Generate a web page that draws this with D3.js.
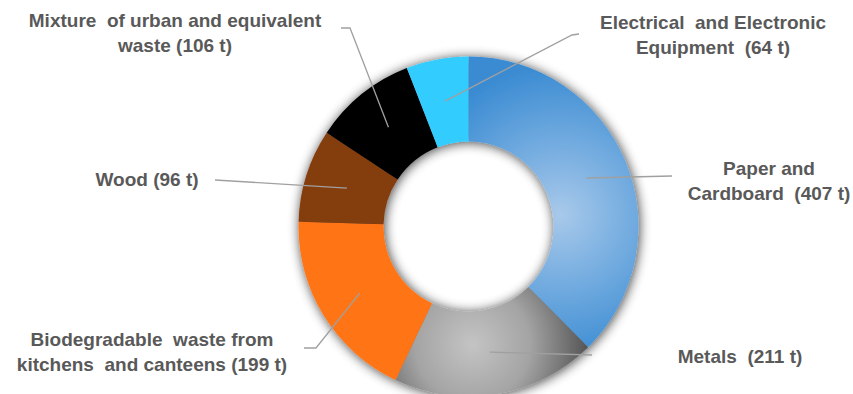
<!DOCTYPE html>
<html>
<head>
<meta charset="utf-8">
<script src="https://cdn.jsdelivr.net/npm/d3@7/dist/d3.min.js"></script>
<style>
  html, body { margin: 0; padding: 0; background: #fff; }
  svg { display: block; }
  text { font-family: "Liberation Sans", Arial, sans-serif; font-weight: bold; fill: #595959; font-size: 19px; white-space: pre; }
</style>
</head>
<body>
<svg id="chart" width="853" height="394"></svg>
<script>
// ---- data ----
const categories = [
  "Paper and Cardboard",
  "Metals",
  "Biodegradable waste from kitchens and canteens",
  "Wood",
  "Mixture of urban and equivalent waste",
  "Electrical and Electronic Equipment"
];
const values = [407, 211, 199, 96, 106, 64];
const labelLines = [
  ["Paper and", "Cardboard  (407 t)"],
  ["Metals  (211 t)"],
  ["Biodegradable  waste from", "kitchens  and canteens (199 t)"],
  ["Wood (96 t)"],
  ["Mixture  of urban and equivalent", "waste (106 t)"],
  ["Electrical  and Electronic", "Equipment  (64 t)"]
];

// ---- layout (positions / styles) ----
const W = 853, H = 394;
const cx = 468.5, cy = 226.5, rOuter = 170, rInner = 85;
const sliceFills = ["url(#gPaper)", "url(#gMetal)", "#ff7518", "#843c0c", "#000000", "#33ccff"];
// label text center x, first baseline y
const labelPos = [
  [769, 175], [740, 363], [152, 346], [147, 186], [175, 27], [713, 29]
];
// leader line path after the slice centroid (elbow points)
const leaderPts = [
  [[672, 176]],
  [[592, 355]],
  [[316, 348], [304, 348]],
  [[215, 180]],
  [[350, 28], [341, 28]],
  [[572, 35], [579, 34]]
];
const lineHeight = 25;

const svg = d3.select("#chart");
const defs = svg.append("defs");

// gradients are in the slice group's coordinate space (origin at donut centre)
const gp = defs.append("radialGradient").attr("id", "gPaper")
  .attr("gradientUnits", "userSpaceOnUse").attr("cx", 92).attr("cy", -12).attr("r", 150);
gp.append("stop").attr("offset", 0).attr("stop-color", "#a8c9ea");
gp.append("stop").attr("offset", 0.5).attr("stop-color", "#70aadf");
gp.append("stop").attr("offset", 1).attr("stop-color", "#3a8bd2");

const gm = defs.append("radialGradient").attr("id", "gMetal")
  .attr("gradientUnits", "userSpaceOnUse").attr("cx", 4).attr("cy", 118).attr("r", 115);
gm.append("stop").attr("offset", 0).attr("stop-color", "#c4c4c4");
gm.append("stop").attr("offset", 0.5).attr("stop-color", "#a4a4a4");
gm.append("stop").attr("offset", 1).attr("stop-color", "#555555");

const f = defs.append("filter").attr("id", "shadow")
  .attr("x", "-20%").attr("y", "-20%").attr("width", "140%").attr("height", "140%");
f.append("feGaussianBlur").attr("in", "SourceAlpha").attr("stdDeviation", 6).attr("result", "b");
f.append("feOffset").attr("in", "b").attr("dx", 1).attr("dy", 1).attr("result", "o");
f.append("feComponentTransfer").attr("in", "o").attr("result", "s")
  .append("feFuncA").attr("type", "linear").attr("slope", 0.75);
const fm = f.append("feMerge");
fm.append("feMergeNode").attr("in", "s");
fm.append("feMergeNode").attr("in", "SourceGraphic");

const pie = d3.pie().sort(null).value(d => d)(values);
const arc = d3.arc().innerRadius(rInner).outerRadius(rOuter);

const g = svg.append("g").attr("transform", `translate(${cx},${cy})`);
g.append("g").attr("filter", "url(#shadow)")
  .selectAll("path").data(pie).join("path")
  .attr("d", arc)
  .attr("fill", (d, i) => sliceFills[i]);

// leader lines
const line = d3.line();
pie.forEach((d, i) => {
  const c = arc.centroid(d);
  const pts = [[cx + c[0], cy + c[1]], ...leaderPts[i]];
  svg.append("path").attr("d", line(pts))
    .attr("fill", "none").attr("stroke", "#a0a0a0").attr("stroke-width", 1.3);
});

// labels
labelLines.forEach((lines, i) => {
  const t = svg.append("text").attr("text-anchor", "middle");
  lines.forEach((s, k) => {
    t.append("tspan").attr("x", labelPos[i][0]).attr("y", labelPos[i][1] + k * lineHeight).text(s);
  });
});
</script>
</body>
</html>
